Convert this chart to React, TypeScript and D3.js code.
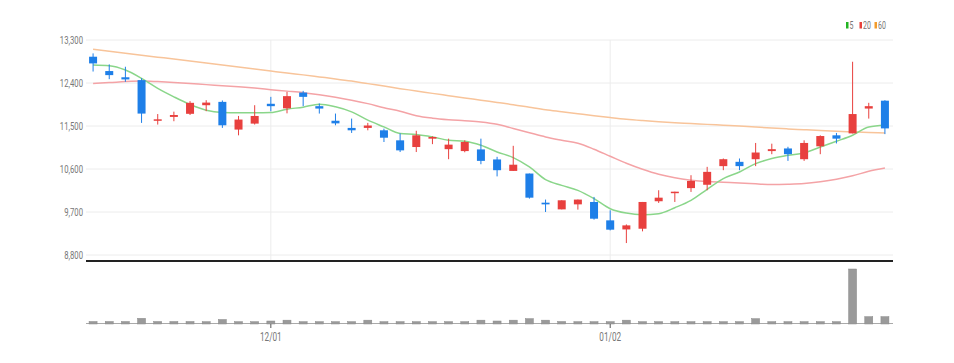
import React from "react";
import * as d3 from "d3";

const opens = [12950,12650,12520,12460,11610,11690,11755,11935,12005,11425,11550,11965,11870,12200,11915,11610,11460,11460,11410,11200,11060,11235,11015,10975,11010,10800,10560,10505,9895,9755,9860,9910,9525,9335,9350,9925,10100,10200,10270,10660,10750,10805,10975,11030,10805,11075,11305,11345,11865,12030];
const highs = [13020,12790,12740,12500,11750,11800,12020,12040,12035,11710,11935,12110,12215,12235,11970,11760,11655,11565,11445,11345,11400,11285,11235,11200,11235,10855,11085,10505,9960,9945,9960,10015,9735,9440,9910,10155,10125,10470,10645,10820,10820,11145,11130,11065,11200,11305,11355,12845,11985,12040];
const lows = [12640,12480,12425,11565,11530,11600,11730,11810,11460,11305,11530,11810,11765,11915,11760,11515,11355,11410,11165,10955,10955,11120,10805,10950,10700,10445,10560,9980,9700,9755,9750,9540,9315,9050,9295,9890,9910,10120,10155,10575,10575,10660,10910,10770,10770,10910,11135,11345,11655,11330];
const closes = [12810,12565,12475,11760,11640,11730,11985,11990,11515,11635,11710,11915,12125,12110,11865,11555,11410,11510,11255,10990,11305,11270,11110,11165,10770,10575,10690,10000,9860,9945,9960,9560,9330,9420,9910,10000,10125,10350,10540,10805,10660,10945,11015,10910,11145,11290,11235,11750,11915,11450];
const volumes = [75,75,75,170,75,75,75,70,135,70,70,90,115,70,70,70,70,115,70,70,70,70,70,70,115,90,115,160,115,75,70,70,70,115,70,70,70,70,70,70,70,160,70,70,70,70,70,1650,220,220];
const ma5 = [12775,12761,12671,12497,12287,12110,11951,11831,11783,11775,11775,11783,11852,11894,11957,11901,11796,11622,11481,11343,11322,11271,11202,11181,11097,10957,10839,10642,10378,10258,10153,9979,9769,9677,9643,9664,9790,9943,10174,10398,10537,10713,10818,10887,10936,11061,11181,11307,11481,11517];
const ma20 = [12392,12408,12429,12440,12429,12413,12392,12366,12345,12320,12293,12261,12230,12198,12156,12104,12041,11968,11884,11810,11716,11664,11632,11611,11586,11538,11448,11359,11271,11202,11139,11013,10866,10719,10594,10489,10415,10367,10336,10321,10306,10289,10273,10279,10294,10331,10384,10457,10552,10621];
const ma60 = [13105,13063,13023,12981,12941,12901,12859,12817,12776,12734,12692,12650,12608,12570,12528,12486,12440,12387,12335,12282,12234,12183,12135,12087,12041,11993,11947,11894,11842,11800,11758,11716,11678,11643,11615,11590,11569,11552,11534,11517,11500,11479,11458,11439,11422,11405,11391,11378,11366,11355];
const yTicks = [8800, 9700, 10600, 11500, 12400, 13300];
const xTickIndex = [11, 32];
const xTickLabels = ["12/01", "01/02"];
const legendItems = [
  { label: "5", color: "#22b422" },
  { label: "20", color: "#e8413b" },
  { label: "60", color: "#f39c2b" },
];

const W = 954;
const H = 363;
const left = 86;
const right = 893;
const top = 40;
const bottom = 255;
const volTop = 269;
const volBase = 324;

const UP = "#e8403e";
const DOWN = "#1e7fe8";

export default function App() {
  const idx = d3.range(opens.length);
  const x = d3.scaleBand<number>().domain(idx).range([left - 1, right]).paddingInner(0.5).paddingOuter(0.25);
  const cx = (i: number) => (x(i) as number) + x.bandwidth() / 2;
  const bw = 8;
  const y = d3.scaleLinear().domain([8800, 13300]).range([bottom, top]);
  const yv = d3.scaleLinear().domain([0, d3.max(volumes) as number]).range([volBase, volTop]);
  const line = (arr: number[]) =>
    d3.line<number>().x((_, i) => cx(i)).y((d) => y(d)).curve(d3.curveMonotoneX)(arr) as string;
  const font = "Roboto, 'Liberation Sans', sans-serif";

  return (
    <svg width={W} height={H} style={{ position: "absolute", left: 0, top: 0, background: "#fff" }}>
      {/* horizontal grid */}
      {yTicks.map((t) => (
        <line key={t} x1={left} x2={right} y1={y(t)} y2={y(t)} stroke="#ececec" strokeWidth={1} />
      ))}
      {/* vertical grid */}
      {xTickIndex.map((i) => (
        <line key={i} x1={cx(i)} x2={cx(i)} y1={top} y2={261} stroke="#ececec" strokeWidth={1} />
      ))}
      {/* y labels */}
      {yTicks.map((t) => (
        <text
          key={t}
          transform={`translate(83,${y(t) + 3.5}) scale(0.7,1)`}
          textAnchor="end"
          fontFamily={font}
          fontSize={11}
          fill="#777"
        >
          {d3.format(",")(t)}
        </text>
      ))}
      {/* MA lines */}
      <path d={line(ma60)} fill="none" stroke="#f8c49a" strokeWidth={1.5} />
      <path d={line(ma20)} fill="none" stroke="#f4a3a6" strokeWidth={1.5} />
      <path d={line(ma5)} fill="none" stroke="#8ad68a" strokeWidth={1.5} />
      {/* candles */}
      {idx.map((i) => {
        const up = closes[i] >= opens[i];
        const c = up ? UP : DOWN;
        const yt = y(Math.max(opens[i], closes[i]));
        const yb = y(Math.min(opens[i], closes[i]));
        return (
          <g key={i}>
            <line x1={cx(i)} x2={cx(i)} y1={y(highs[i])} y2={y(lows[i])} stroke={c} strokeWidth={1} />
            <rect x={cx(i) - bw / 2} y={yt} width={bw} height={Math.max(1.5, yb - yt)} fill={c} />
          </g>
        );
      })}
      {/* separator axis */}
      <line x1={left} x2={right} y1={261} y2={261} stroke="#222" strokeWidth={2} />
      {/* volume */}
      <line x1={left} x2={right} y1={volBase - 0.5} y2={volBase - 0.5} stroke="#aaa" strokeWidth={1} />
      {idx.map((i) => (
        <rect
          key={i}
          x={cx(i) - bw / 2}
          y={yv(volumes[i])}
          width={bw}
          height={volBase - yv(volumes[i])}
          fill="#9a9a9a"
          stroke="#8a8a8a"
          strokeWidth={0.5}
        />
      ))}
      {/* x ticks */}
      {xTickIndex.map((i, k) => (
        <g key={i}>
          <line x1={cx(i)} x2={cx(i)} y1={volBase} y2={volBase + 4} stroke="#555" strokeWidth={1} />
          <text
            transform={`translate(${cx(i)},${volBase + 17}) scale(0.68,1)`}
            textAnchor="middle"
            fontFamily={font}
            fontSize={12}
            fill="#777"
          >
            {xTickLabels[k]}
          </text>
        </g>
      ))}
      {/* legend */}
      {legendItems.map((it, k) => {
        const lx = [846, 859.5, 874.5][k];
        return (
          <g key={it.label}>
            <rect x={lx} y={22} width={2.5} height={6.5} fill={it.color} />
            <text
              transform={`translate(${lx + 3.5},${28.5}) scale(0.7,1)`}
              fontFamily={font}
              fontSize={10}
              fill="#777"
            >
              {it.label}
            </text>
          </g>
        );
      })}
    </svg>
  );
}
